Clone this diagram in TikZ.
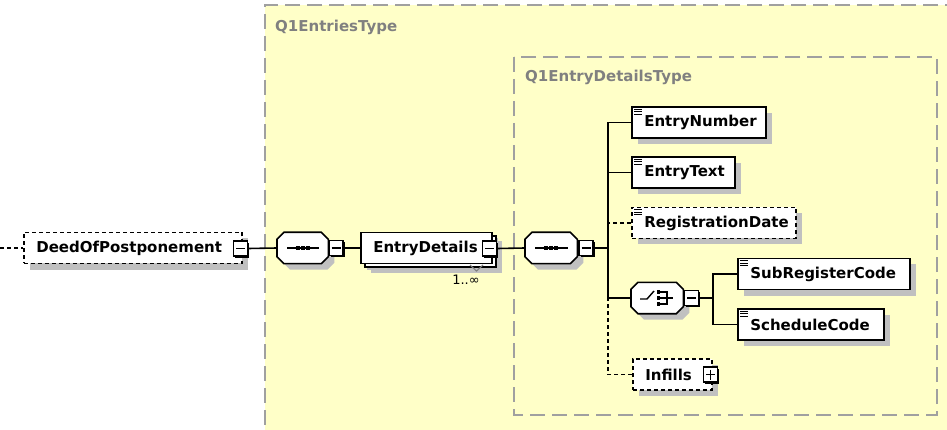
\documentclass[tikz,border=0pt]{standalone}
\usepackage{fontspec}
\setmainfont{DejaVu Sans}
\usetikzlibrary{shadows,calc}
\definecolor{bgyel}{RGB}{255,255,200}
\definecolor{boxgray}{RGB}{160,160,160}
\definecolor{labgray}{RGB}{128,128,128}
\definecolor{shadowc}{RGB}{192,192,192}
\newcommand\octa[3]{([shift={(7+#2,#3)}]#1.north west) -- ([shift={(-7+#2,#3)}]#1.north east) -- ([shift={(#2,7+#3)}]#1.north east) -- ([shift={(#2,-7+#3)}]#1.south east) -- ([shift={(-7+#2,#3)}]#1.south east) -- ([shift={(7+#2,#3)}]#1.south west) -- ([shift={(#2,-7+#3)}]#1.south west) -- ([shift={(#2,7+#3)}]#1.north west) -- cycle}
\tikzset{
  elem/.style={draw, fill=white, line width=1.6pt, anchor=west, minimum height=31pt,
    inner xsep=12.5pt, inner ysep=0pt, align=left, font=\bfseries\fontsize{15}{17}\selectfont,
    drop shadow={shadow xshift=6pt, shadow yshift=-6pt, fill=shadowc, opacity=1}},
  optel/.style={elem, dash pattern=on 4pt off 3pt},
  conn/.style={line width=1.6pt},
  optconn/.style={line width=1.6pt, dash pattern=on 4pt off 3pt},
  compo/.style={minimum width=#1, minimum height=31pt, inner sep=0pt, anchor=west},
  mbox/.style={draw, fill=white, line width=1.4pt, minimum width=14pt, minimum height=15pt, inner sep=0pt,
    drop shadow={shadow xshift=1.6pt, shadow yshift=-1.6pt, fill=black, opacity=1},
    path picture={\draw[line width=1.1pt] ([xshift=2.5pt]path picture bounding box.west) -- ([xshift=-2.5pt]path picture bounding box.east);}},
  pbox/.style={mbox,
    path picture={\draw[line width=1.1pt] ([xshift=2.5pt]path picture bounding box.west) -- ([xshift=-2.5pt]path picture bounding box.east);
      \draw[line width=1.1pt] ([yshift=-2.5pt]path picture bounding box.north) -- ([yshift=2.5pt]path picture bounding box.south);}},
  typelab/.style={anchor=west, inner sep=0pt, text=labgray, font=\bfseries\fontsize{15}{17}\selectfont},
  typebox/.style={draw=boxgray, line width=1.6pt, dash pattern=on 15pt off 7pt},
}
\newcommand\simpleicon[1]{%
  \foreach \k in {0,2.5,5}{\draw[line width=0.9pt] ([shift={(3,3+\k)}]#1.north west) -- ++(8,0);}}
\begin{document}
\begin{tikzpicture}[x=1pt,y=-1pt]
\useasboundingbox (0,0) rectangle (947,430);
\fill[white] (0,0) rectangle (947,430);
% type boxes
\fill[bgyel] (265,5) rectangle (960,440);
\draw[typebox] (960,5) -- (265,5) -- (265,440);
\node[typelab] (t1) at (275,27) {Q1EntriesType};
\draw[typebox] (514,57) rectangle (937,415);
\node[typelab] (t2) at (525,77) {Q1EntryDetailsType};

% root element
\coordinate (start) at (0,248);
\node[optel, text width=193pt] (deed) at (23,248) {DeedOfPostponement};
\node[mbox] (m0) at (240.5,248.5) {};
\draw[optconn] (start) -- (deed.west);

% sequence 1
\node[compo=51pt] (s1) at (277,248) {};
\fill[shadowc] \octa{s1}{6}{6};
\draw[line width=1.6pt, fill=white] \octa{s1}{0}{0};
\draw[line width=1.4pt] ([xshift=10pt]s1.west) -- ([xshift=-9pt]s1.east);
\foreach \d in {-5,0,5}{\fill ([xshift=\d]s1.center) ++(-2,-2) rectangle ++(4,4);}
\node[mbox] (m1) at (336,248) {};
\draw[conn] (m0.east) -- (s1.west);

% EntryDetails
\node[elem, text width=106pt,
  drop shadow={shadow xshift=10pt, shadow yshift=-9pt, fill=shadowc, opacity=1},
  copy shadow={shadow xshift=4pt, shadow yshift=-3.5pt}] (ed) at (360,248) {EntryDetails};
\node[mbox] (m2) at (489.5,248.5) {};
\draw[conn] (m1.east) -- (ed.west);
\draw[labgray, line width=1.1pt] (470,265) -- (476.5,271) -- (483,265);
\node[font=\fontsize{13}{15}\selectfont, inner sep=0pt] (mult) at (466,280) {1..∞};

% sequence 2
\node[compo=52pt] (s2) at (525,248) {};
\fill[shadowc] \octa{s2}{6}{6};
\draw[line width=1.6pt, fill=white] \octa{s2}{0}{0};
\draw[line width=1.4pt] ([xshift=10pt]s2.west) -- ([xshift=-9pt]s2.east);
\foreach \d in {-5,0,5}{\fill ([xshift=\d]s2.center) ++(-2,-2) rectangle ++(4,4);}
\node[mbox] (m3) at (586,248) {};
\draw[conn] (m2.east) -- (s2.west);

\coordinate (bus) at (608,248);
\draw[conn] (m3.east) -- (bus);

% children
\node[elem, text width=109pt] (en) at (631,122.5) {EntryNumber};
\simpleicon{en}
\node[elem, text width=78pt] (et) at (631,172.5) {EntryText};
\simpleicon{et}
\node[optel, text width=139pt] (rd) at (631,223) {RegistrationDate};
\simpleicon{rd}

% choice
\node[compo=52pt] (ch) at (631,298) {};
\fill[shadowc] \octa{ch}{6}{6};
\draw[line width=1.6pt, fill=white] \octa{ch}{0}{0};
\draw[line width=1.4pt] (640,299) -- (647,299) -- (654,291);
\foreach \yy in {292,298,304}{\fill (656.5,\yy-1.8) rectangle ++(3.6,3.6);}
\draw[line width=1.3pt] (660,292) -- (667,292) -- (667,304) -- (660,304) (660,298) -- (673,298);
\node[mbox] (m4) at (691.5,298) {};

\node[optel, text width=54pt] (inf) at (632,374.5) {Infills};
\node[pbox] (p1) at (710.5,374.5) {};

\draw[optconn] (rd.west) -| (bus);
\draw[optconn] (inf.west) -| (bus);
\draw[conn] (en.west) -| (bus);
\draw[conn] (et.west) -| (bus);
\draw[conn] (ch.west) -| (bus);

% choice children
\coordinate (cbus) at (713,298);
\draw[conn] (m4.east) -- (cbus);
\node[elem, text width=147pt] (sr) at (737,274) {SubRegisterCode};
\simpleicon{sr}
\node[elem, text width=121pt] (sc) at (737,324.5) {ScheduleCode};
\simpleicon{sc}
\draw[conn] (sr.west) -| (cbus);
\draw[conn] (sc.west) -| (cbus);
\end{tikzpicture}
\end{document}
